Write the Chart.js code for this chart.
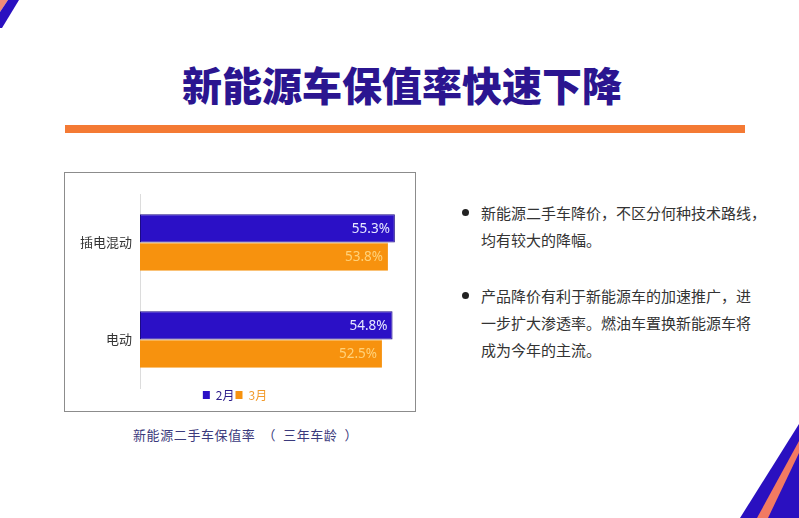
<!DOCTYPE html>
<html lang="zh">
<head>
<meta charset="utf-8">
<script src="https://cdn.jsdelivr.net/npm/chart.js@4.4.1/dist/chart.umd.min.js"></script>
<style>
  html, body { margin: 0; padding: 0; background: #fff; }
  #page { position: relative; width: 799px; height: 518px; overflow: hidden; background: #fff;
          font-family: "Noto Sans CJK SC", "Noto Sans", sans-serif; }
  .deco { position: absolute; left: 0; top: 0; width: 799px; height: 518px; }
  #title { position: absolute; left: 0; width: 804px; top: 56px; text-align: center;
           font-size: 40px; font-weight: 900; color: #2b1590; line-height: 56px; }
  #rule { position: absolute; left: 65px; top: 125px; width: 680px; height: 8px; background: #f47a34; }
  #chartBox { position: absolute; left: 64px; top: 172px; width: 350px; height: 238px;
              border: 1px solid #8c8c8c; }
  #caption { position: absolute; left: 133px; top: 425px; font-size: 13px; color: #3b3a7c;
             font-family: "Noto Sans CJK SC", serif; letter-spacing: 0.6px; white-space: pre; }
  .bullets { position: absolute; left: 462px; top: 199px; width: 330px; color: #333;
             font-size: 15px; line-height: 27px; white-space: nowrap; }
  .bullets p { margin: 0 0 29px 0; padding-left: 19px; position: relative; }
  .bullets p::before { content: ""; position: absolute; left: 0; top: 10px; width: 7px; height: 7px;
                       border-radius: 50%; background: #222; }
</style>
</head>
<body>
<div id="page">
  <!-- corner stripes -->
  <div class="deco" style="background:#f08a78; clip-path: polygon(0 0, 8px 0, 0 12px);"></div>
  <div class="deco" style="background:#2a10c0; clip-path: polygon(8px 0, 19px 0, 2px 28px, 0 28px, 0 12px);"></div>
  <div class="deco" style="background:#2a10c0; clip-path: polygon(799px 424px, 799px 518px, 740px 518px);"></div>
  <div class="deco" style="background:#f27a62; clip-path: polygon(799px 441px, 799px 453px, 768px 518px, 757px 518px);"></div>

  <div id="title">新能源车保值率快速下降</div>
  <div id="rule"></div>

  <div id="chartBox"><canvas id="rateChart" width="350" height="238"></canvas></div>
  <div id="caption">新能源二手车保值率  （  三年车龄  ）</div>

  <div class="bullets">
    <p>新能源二手车降价，不区分何种技术路线，<br>均有较大的降幅。</p>
    <p>产品降价有利于新能源车的加速推广，进<br>一步扩大渗透率。燃油车置换新能源车将<br>成为今年的主流。</p>
  </div>
</div>

<script>
// chart data
const categories = ['插电混动', '电动'];
const seriesNames = ['2月', '3月'];
const febValues = [55.3, 54.8];
const marValues = [53.8, 52.5];

const barColors = ['#2b10c6', '#f7920e'];
const labelColors = ['#e6e8ff', '#ffd27a'];
const legendTextColors = ['#2a1a8a', '#f29a2a'];

// draw value labels at the inner end of each bar
const valueLabels = {
    id: 'valueLabels',
    afterDatasetsDraw(chart) {
        const ctx = chart.ctx;
        ctx.save();
        ctx.font = '13.5px "Noto Sans", sans-serif';
        ctx.textAlign = 'right';
        ctx.textBaseline = 'middle';
        chart.data.datasets.forEach((ds, i) => {
            const meta = chart.getDatasetMeta(i);
            ctx.fillStyle = labelColors[i];
            meta.data.forEach((bar, j) => {
                ctx.fillText(ds.data[j].toFixed(1) + '%', bar.x - 5, bar.y + 1);
            });
        });
        ctx.restore();
    }
};

const ctx = document.getElementById('rateChart').getContext('2d');
new Chart(ctx, {
    type: 'bar',
    data: {
        labels: categories,
        datasets: [
            {
                label: seriesNames[0],
                data: febValues,
                backgroundColor: barColors[0],
                borderColor: '#1c0a86',
                borderWidth: 1,
                borderSkipped: false
            },
            {
                label: seriesNames[1],
                data: marValues,
                backgroundColor: barColors[1],
                borderColor: '#f4b23a',
                borderWidth: { top: 1 },
                borderSkipped: false
            }
        ]
    },
    options: {
        indexAxis: 'y',
        responsive: false,
        devicePixelRatio: 1,
        animation: false,
        categoryPercentage: 0.58,
        barPercentage: 1.0,
        layout: { padding: { top: 21, right: 10, left: 0, bottom: 0 } },
        scales: {
            x: { display: false, min: 0, max: 57.5 },
            y: {
                grid: { display: false, drawTicks: false },
                border: { display: true, color: '#dcdcdc', width: 1 },
                ticks: {
                    color: '#333',
                    padding: 8,
                    font: { family: '"Noto Sans CJK SC", sans-serif', size: 13 }
                },
                afterFit: scale => { scale.width = 75; }
            }
        },
        plugins: {
            legend: {
                position: 'bottom',
                labels: {
                    boxWidth: 7,
                    boxHeight: 8,
                    padding: 1,
                    font: { family: '"Noto Sans CJK SC", sans-serif', size: 12 },
                    generateLabels: chart => chart.data.datasets.map((ds, i) => ({
                        text: ds.label,
                        fillStyle: barColors[i],
                        strokeStyle: barColors[i],
                        lineWidth: 0,
                        fontColor: legendTextColors[i],
                        datasetIndex: i
                    }))
                }
            },
            tooltip: { enabled: false }
        }
    },
    plugins: [valueLabels]
});
</script>
</body>
</html>
